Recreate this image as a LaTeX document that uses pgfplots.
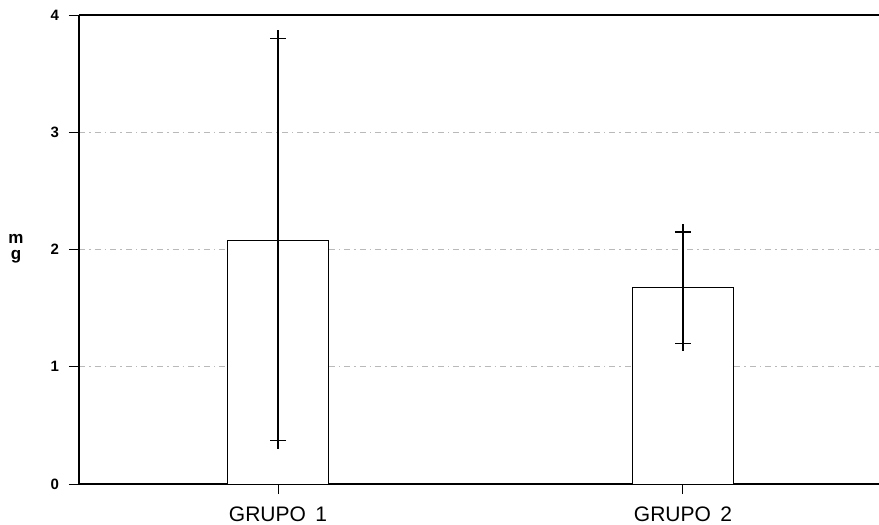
\documentclass[border=0pt]{standalone}
\usepackage{fontspec}
\setmainfont{Liberation Sans}
\usepackage{pgfplots}
\pgfplotsset{compat=1.18}
\begin{document}
\begin{tikzpicture}[x=1pt,y=1pt]
\useasboundingbox (-39.5pt,-20.5pt) rectangle (400pt,242pt);
\begin{axis}[
  at={(0,0)}, anchor=south west,
  scale only axis,
  width=400pt, height=234.5pt,
  xmin=0.5086, xmax=2.484,
  ymin=0, ymax=4,
  axis x line=box,
  axis y line=left,
  axis line style={line width=0.6pt, -},
  tick align=outside,
  major tick length=5pt,
  tick style={line width=0.5pt, black},
  xtick={1,2},
  xtick pos=bottom,
  xticklabels={GRUPO\hspace{0.45em}1, GRUPO\hspace{0.45em}2},
  xticklabel style={font=\fontsize{10.5}{12}\selectfont, yshift=-3pt},
  ytick={0,1,2,3,4},
  yticklabel style={font=\fontsize{7.5}{9}\selectfont\bfseries, xshift=-1.5pt},
  /pgf/number format/assume math mode=true,
  ymajorgrids=true,
  grid style={gray!55, line width=0.35pt, dash pattern=on 3pt off 2pt on 0.8pt off 2pt},
  ylabel={\shortstack{m\\[0.5pt]g}},
  every axis y label/.style={at={(axis description cs:0,0.501)}, anchor=center, xshift=-31.5pt, font=\fontsize{8.5}{8.5}\selectfont\bfseries},
  clip=false,
]
\addplot[ybar, bar width=0.25, fill=white, draw=black, line width=0.5pt,
  error bars/.cd, y dir=both, y explicit,
  error bar style={line width=1pt, black},
  error mark=+,
  error mark options={mark size=4pt, line width=0.6pt, black}]
  coordinates {
    (1,2.08) += (0,1.72) -= (0,1.71)
    (2,1.68) += (0,0.47) -= (0,0.48)
  };
\end{axis}
\end{tikzpicture}
\end{document}
